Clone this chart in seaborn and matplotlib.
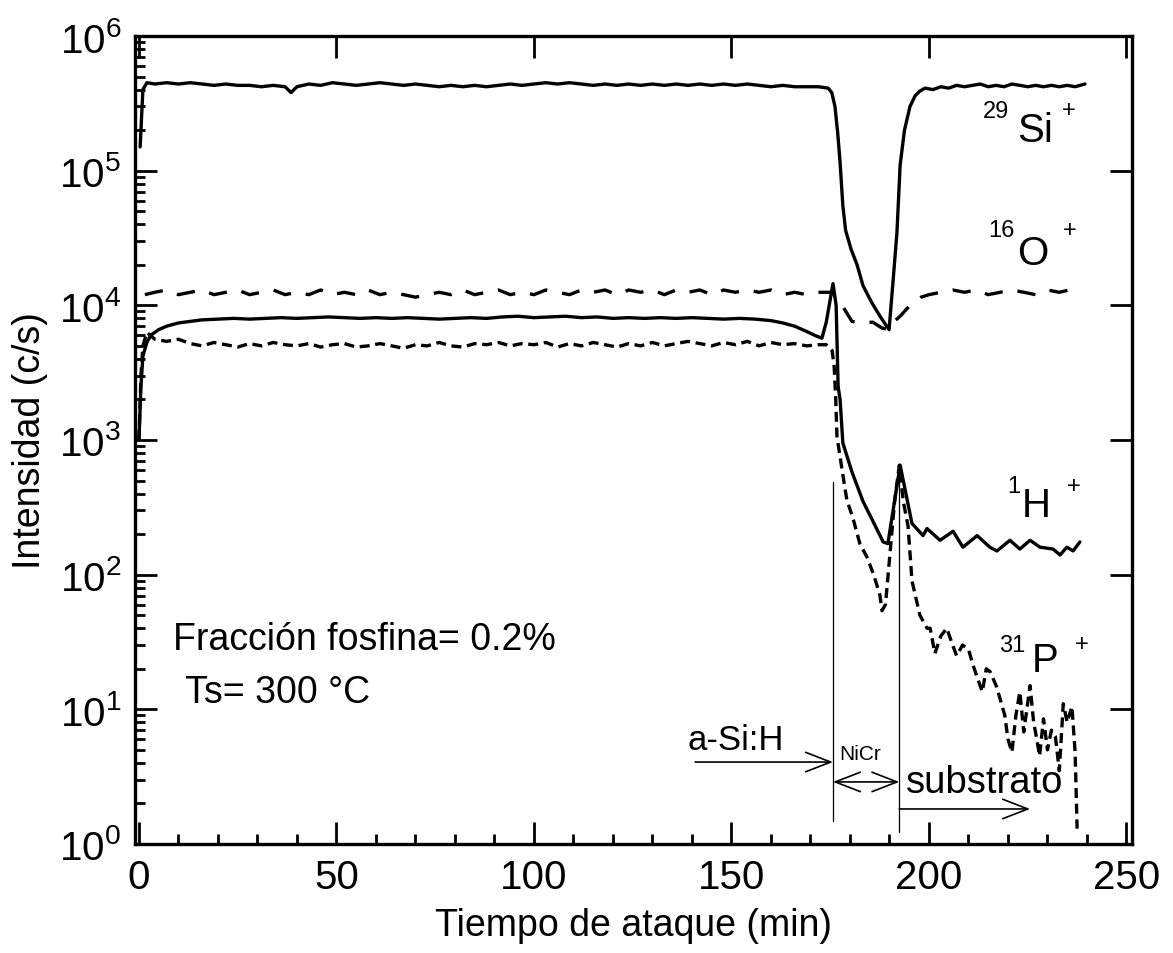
import numpy as np
import matplotlib
matplotlib.use('agg')
import matplotlib.pyplot as plt
import seaborn as sns
from matplotlib.ticker import FixedLocator, NullFormatter

# 29Si+ (solid)
si_t = [0.3, 1, 2, 4, 7, 10, 13, 16, 19, 22, 25, 28, 31, 34, 37, 38.5, 40, 43, 46, 49,
        52, 55, 58, 61, 64, 67, 70, 73, 76, 79, 82, 85, 88, 91, 94, 97, 100, 103, 106, 109,
        112, 115, 118, 121, 124, 127, 130, 133, 136, 139, 142, 145, 148, 151, 154, 157, 160,
        163, 166, 169, 172, 174.5, 175.4, 176.2, 176.9, 177.5, 178.2, 178.9, 180.3, 181.8,
        183.3, 185.5, 187.6, 189.9, 190.9, 191.9, 192.7, 193.8, 195.2, 196.5, 197.7, 199,
        201, 203, 205, 207, 209, 211, 213, 215, 217, 219, 221, 223, 225, 227, 229, 231, 233,
        235, 237, 239.5]
si_v = [1.5e5, 4.0e5, 4.5e5, 4.4e5, 4.5e5, 4.4e5, 4.5e5, 4.4e5, 4.3e5, 4.4e5, 4.3e5, 4.3e5,
        4.2e5, 4.3e5, 4.2e5, 3.8e5, 4.2e5, 4.4e5, 4.3e5, 4.5e5, 4.4e5, 4.3e5, 4.4e5, 4.5e5,
        4.4e5, 4.3e5, 4.4e5, 4.3e5, 4.2e5, 4.3e5, 4.2e5, 4.3e5, 4.2e5, 4.3e5, 4.4e5, 4.3e5,
        4.4e5, 4.5e5, 4.4e5, 4.5e5, 4.4e5, 4.3e5, 4.4e5, 4.3e5, 4.4e5, 4.3e5, 4.4e5, 4.3e5,
        4.4e5, 4.3e5, 4.4e5, 4.3e5, 4.4e5, 4.3e5, 4.4e5, 4.3e5, 4.2e5, 4.3e5, 4.2e5, 4.2e5,
        4.2e5, 4.1e5, 3.8e5, 3.0e5, 1.9e5, 1.15e5, 5.5e4, 3.6e4, 2.6e4, 2.0e4, 1.4e4, 1.05e4,
        8.3e3, 6.6e3, 1.5e4, 3.5e4, 1.1e5, 2.0e5, 3.0e5, 3.6e5, 3.9e5, 4.1e5, 4.0e5, 4.2e5,
        4.1e5, 4.3e5, 4.2e5, 4.3e5, 4.4e5, 4.2e5, 4.3e5, 4.2e5, 4.4e5, 4.3e5, 4.2e5, 4.3e5,
        4.2e5, 4.3e5, 4.2e5, 4.3e5, 4.2e5, 4.4e5]

# 16O+ (long dashes)
o_t = [1.5, 4, 7, 10, 13, 16, 19, 22, 25, 28, 31, 34, 37, 40, 43, 46, 49, 52, 55, 58, 61,
       64, 67, 70, 73, 76, 79, 82, 85, 88, 91, 94, 97, 100, 103, 106, 109, 112, 115, 118,
       121, 124, 127, 130, 133, 136, 139, 142, 145, 148, 151, 154, 157, 160, 163, 166, 169,
       172, 175.5, 178, 180.5, 183, 185.8, 188, 189.9, 191, 192.7, 194.5, 196, 198, 200,
       203, 206, 209, 212, 215, 218, 221, 224, 227, 230, 233, 235.5]
o_v = [1.2e4, 1.25e4, 1.3e4, 1.2e4, 1.25e4, 1.3e4, 1.2e4, 1.25e4, 1.3e4, 1.2e4, 1.25e4,
       1.3e4, 1.2e4, 1.25e4, 1.2e4, 1.3e4, 1.2e4, 1.25e4, 1.2e4, 1.3e4, 1.2e4, 1.25e4,
       1.2e4, 1.15e4, 1.2e4, 1.25e4, 1.2e4, 1.3e4, 1.2e4, 1.25e4, 1.3e4, 1.2e4, 1.25e4,
       1.2e4, 1.3e4, 1.25e4, 1.2e4, 1.3e4, 1.25e4, 1.3e4, 1.2e4, 1.3e4, 1.25e4, 1.3e4,
       1.2e4, 1.3e4, 1.25e4, 1.3e4, 1.2e4, 1.3e4, 1.25e4, 1.3e4, 1.25e4, 1.3e4, 1.2e4,
       1.25e4, 1.2e4, 1.25e4, 1.25e4, 1.0e4, 7.6e3, 7.4e3, 7.5e3, 6.8e3, 6.6e3, 7.5e3,
       8.3e3, 9.5e3, 1.05e4, 1.15e4, 1.2e4, 1.25e4, 1.3e4, 1.25e4, 1.3e4, 1.2e4, 1.25e4,
       1.3e4, 1.25e4, 1.2e4, 1.3e4, 1.25e4, 1.3e4]

# 1H+ (solid)
h_t = [0, 0.5, 1, 2, 3, 5, 7, 10, 13, 16, 20, 24, 28, 32, 36, 40, 44, 48, 52, 56, 60, 64,
       68, 72, 76, 80, 84, 88, 92, 96, 100, 104, 108, 112, 116, 120, 124, 128, 132, 136,
       140, 144, 148, 152, 156, 160, 163, 166, 169, 171, 172.9, 174, 175.7, 176.5, 177.0,
       177.5, 178.2, 180.5, 183.3, 185.8, 188.4, 189.6, 192.7, 195.7, 198.5, 199.5, 202.8,
       206.1, 208.6, 212.2, 215.4, 217.2, 220.5, 223, 225.6, 228.1, 231.4, 233.2, 234.9,
       236.5, 238.2]
h_v = [1.0e3, 2.5e3, 4.2e3, 5.3e3, 6.0e3, 6.6e3, 7.0e3, 7.4e3, 7.6e3, 7.8e3, 7.9e3, 8.0e3,
       7.9e3, 8.0e3, 8.1e3, 8.0e3, 8.1e3, 8.2e3, 8.1e3, 8.0e3, 8.1e3, 8.0e3, 8.1e3, 8.0e3,
       7.9e3, 8.0e3, 8.1e3, 8.0e3, 8.2e3, 8.3e3, 8.1e3, 8.2e3, 8.3e3, 8.1e3, 8.2e3, 8.0e3,
       8.1e3, 8.0e3, 8.1e3, 8.0e3, 8.1e3, 8.0e3, 7.9e3, 8.0e3, 7.9e3, 7.7e3, 7.4e3, 7.0e3,
       6.4e3, 6.0e3, 5.7e3, 7.5e3, 1.45e4, 1.0e4, 2.5e3, 2.0e3, 9.5e2, 5.8e2, 3.5e2, 2.5e2,
       1.75e2, 1.7e2, 6.5e2, 2.4e2, 1.95e2, 2.2e2, 1.8e2, 2.1e2, 1.6e2, 1.95e2, 1.6e2,
       1.5e2, 1.8e2, 1.55e2, 1.8e2, 1.6e2, 1.55e2, 1.4e2, 1.6e2, 1.5e2, 1.75e2]

# 31P+ (short dashes)
p_t = [0, 0.5, 1, 2, 4, 7, 10, 13, 16, 19, 22, 25, 28, 31, 34, 37, 40, 43, 46, 49, 52, 55,
       58, 61, 64, 67, 70, 73, 76, 79, 82, 85, 88, 91, 94, 97, 100, 103, 106, 109, 112, 115,
       118, 121, 124, 127, 130, 133, 136, 139, 142, 145, 148, 151, 154, 157, 160, 163, 166,
       169, 172, 174, 175.5, 176.0, 176.4, 176.7, 178, 179.2, 180.8, 182.5, 184.3, 186,
       187.6, 188.1, 189, 190, 191.3, 192.5, 193.5, 194.7, 195.7, 197.7, 199.5, 200.3, 201.5,
       203, 204.5, 206, 207, 208.5, 210, 211, 212, 213.5, 214.5, 215.5, 217, 218, 219.2, 220,
       221, 222, 223, 224, 225.6, 226.5, 227.3, 228, 229, 230, 231, 232, 233, 234, 235,
       236.2, 237, 237.5]
p_v = [1.0e3, 3.0e3, 5.0e3, 6.3e3, 5.6e3, 5.4e3, 5.6e3, 5.2e3, 5.0e3, 5.3e3, 5.1e3, 4.9e3,
       5.2e3, 5.0e3, 5.3e3, 5.1e3, 5.0e3, 5.2e3, 4.9e3, 5.1e3, 5.2e3, 4.9e3, 5.0e3, 5.2e3,
       5.0e3, 4.8e3, 5.1e3, 5.0e3, 5.3e3, 5.0e3, 4.9e3, 5.2e3, 5.1e3, 5.3e3, 5.0e3, 5.2e3,
       5.1e3, 5.3e3, 4.9e3, 5.2e3, 5.0e3, 5.3e3, 5.1e3, 4.9e3, 5.2e3, 5.0e3, 5.3e3, 5.0e3,
       5.2e3, 5.4e3, 5.2e3, 5.0e3, 5.3e3, 5.1e3, 5.4e3, 5.0e3, 5.3e3, 5.1e3, 5.2e3, 5.0e3,
       5.1e3, 5.1e3, 4.6e3, 3.5e3, 2.0e3, 1.07e3, 6.0e2, 3.6e2, 2.6e2, 1.7e2, 1.35e2, 1.0e2,
       7.0e1, 5.4e1, 6.0e1, 1.3e2, 3.5e2, 6.5e2, 3.5e2, 2.3e2, 9.0e1, 5.0e1, 4.0e1, 4.0e1,
       2.6e1, 3.5e1, 4.0e1, 3.0e1, 2.5e1, 3.0e1, 2.8e1, 2.2e1, 1.8e1, 1.35e1, 2.0e1, 1.9e1,
       1.5e1, 1.2e1, 9.0, 6.0, 4.8, 9.0, 13.5, 6.8, 15.0, 8.0, 6.0, 4.5, 8.5, 5.0, 7.0, 6.3,
       3.5, 11.0, 8.0, 10.5, 4.8, 1.3]

x_major = [0, 50, 100, 150, 200, 250]
x_minor = [10, 20, 30, 40, 60, 70, 80, 90, 110, 120, 130, 140, 160, 170, 180, 190,
           210, 220, 230, 240]
y_major = [1e0, 1e1, 1e2, 1e3, 1e4, 1e5, 1e6]

sns.set_style("ticks")
plt.rcParams['font.family'] = ['Liberation Sans', 'DejaVu Sans']
plt.rcParams['mathtext.default'] = 'regular'
plt.rcParams['text.color'] = 'black'
plt.rcParams['axes.labelcolor'] = 'black'
plt.rcParams['xtick.color'] = 'black'
plt.rcParams['ytick.color'] = 'black'

fig = plt.figure(figsize=(11.73, 9.54), dpi=100)
ax = fig.add_axes([135 / 1173, 109 / 954, 997 / 1173, 808 / 954])

lw = 2.4
sns.lineplot(x=si_t, y=si_v, ax=ax, color='black', lw=lw, errorbar=None, sort=False)
sns.lineplot(x=o_t, y=o_v, ax=ax, color='black', lw=lw, errorbar=None, sort=False,
             linestyle=(0, (5.5, 4.5)))
sns.lineplot(x=h_t, y=h_v, ax=ax, color='black', lw=lw, errorbar=None, sort=False)
sns.lineplot(x=p_t, y=p_v, ax=ax, color='black', lw=lw, errorbar=None, sort=False,
             linestyle=(0, (3, 1.7)))

ax.set_yscale('log')
ax.set_xlim(-1, 251.4)
ax.set_ylim(1, 1e6)

# layer boundaries
ax.plot([175.7, 175.7], [1.48, 490], color='black', lw=0.9)
ax.plot([192.5, 192.5], [1.23, 540], color='black', lw=0.9)

arr = dict(arrowstyle='->,head_length=0.9,head_width=0.35', lw=1.2, color='black',
           shrinkA=0, shrinkB=0, mutation_scale=20)
arr2 = dict(arrowstyle='<->,head_length=0.9,head_width=0.35', lw=1.2, color='black',
            shrinkA=0, shrinkB=0, mutation_scale=20)
ax.annotate('', xy=(175.7, 4.06), xytext=(140.8, 4.06), arrowprops=arr)
ax.annotate('', xy=(192.5, 2.89), xytext=(175.7, 2.89), arrowprops=arr2)
ax.annotate('', xy=(225.6, 1.82), xytext=(192.5, 1.82), arrowprops=arr)

ax.text(163.3, 5.07, 'a-Si:H', fontsize=25, ha='right', va='baseline')
ax.text(177.3, 4.28, 'NiCr', fontsize=15, ha='left', va='baseline')
ax.text(194.2, 2.43, 'substrato', fontsize=27.5, ha='left', va='baseline')

ax.text(8.6, 28, 'Fracción fosfina= 0.2%', fontsize=27, ha='left', va='baseline')
ax.text(11.6, 11.3, 'Ts= 300 °C', fontsize=27, ha='left', va='baseline')

# species labels
big, small = 29, 17
ax.text(213.7, 2.5e5, '29', fontsize=small, ha='left', va='baseline')
ax.text(222.3, 1.65e5, 'Si', fontsize=big, ha='left', va='baseline')
ax.text(233.7, 2.8e5, '+', fontsize=small, ha='left', va='center')
ax.text(214.9, 3.25e4, '16', fontsize=small, ha='left', va='baseline')
ax.text(222.3, 2.03e4, 'O', fontsize=big, ha='left', va='baseline')
ax.text(233.9, 3.6e4, '+', fontsize=small, ha='left', va='center')
ax.text(219.8, 410, '1', fontsize=small, ha='left', va='baseline')
ax.text(223.6, 272, 'H', fontsize=big, ha='left', va='baseline')
ax.text(234.9, 455, '+', fontsize=small, ha='left', va='center')
ax.text(217.8, 27, '31', fontsize=small, ha='left', va='baseline')
ax.text(226.1, 19.2, 'P', fontsize=big, ha='left', va='baseline')
ax.text(237.0, 30.5, '+', fontsize=small, ha='left', va='center')

ax.set_xticks(x_major)
ax.set_xticklabels([str(v) for v in x_major])
ax.xaxis.set_minor_locator(FixedLocator(x_minor))
ax.set_yticks(y_major)
ax.set_yticklabels([r'$10^{%d}$' % int(np.log10(v)) for v in y_major])
ax.yaxis.set_minor_locator(FixedLocator([m * 10.0 ** e for e in range(6) for m in range(2, 10)]))
ax.yaxis.set_minor_formatter(NullFormatter())

ax.tick_params(which='both', direction='in', top=True, right=True, width=2,
               labelsize=29, color='black', labelcolor='black')
ax.tick_params(which='major', length=16, pad=10)
ax.tick_params(which='minor', length=7, top=False, right=False)
for s in ax.spines.values():
    s.set_linewidth(2.4)
    s.set_color('black')

ax.set_xlabel('Tiempo de ataque (min)', fontsize=27, labelpad=8)
ax.set_ylabel('Intensidad (c/s)', fontsize=27, labelpad=8)

fig.savefig('out.png', dpi=100, facecolor='white')
